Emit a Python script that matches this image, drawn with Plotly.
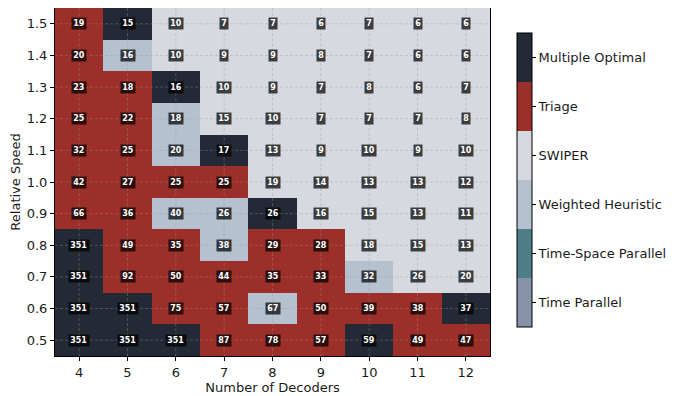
import plotly.graph_objects as go

decoders = [4, 5, 6, 7, 8, 9, 10, 11, 12]
speeds = [0.5, 0.6, 0.7, 0.8, 0.9, 1.0, 1.1, 1.2, 1.3, 1.4, 1.5]
strategy_names = ["Time Parallel", "Time-Space Parallel", "Weighted Heuristic",
                  "SWIPER", "Triage", "Multiple Optimal"]
strategy_colors = ["#8692a9", "#4e7d87", "#b6c1d0", "#d6dae0", "#9c2f29", "#232a35"]

# codes: 0=TP, 1=TSP, 2=WH, 3=SWIPER, 4=Triage, 5=Multiple Optimal (rows from speed 0.5 upward)
best_strategy = [
    [5, 5, 5, 4, 4, 4, 5, 4, 4],  # 0.5
    [5, 5, 4, 4, 2, 4, 4, 4, 5],  # 0.6
    [5, 4, 4, 4, 4, 4, 2, 3, 3],  # 0.7
    [5, 4, 4, 2, 4, 4, 3, 3, 3],  # 0.8
    [4, 4, 2, 2, 5, 3, 3, 3, 3],  # 0.9
    [4, 4, 4, 4, 3, 3, 3, 3, 3],  # 1.0
    [4, 4, 2, 5, 3, 3, 3, 3, 3],  # 1.1
    [4, 4, 2, 3, 3, 3, 3, 3, 3],  # 1.2
    [4, 4, 5, 3, 3, 3, 3, 3, 3],  # 1.3
    [4, 2, 3, 3, 3, 3, 3, 3, 3],  # 1.4
    [4, 5, 3, 3, 3, 3, 3, 3, 3],  # 1.5
]
cell_values = [
    [351, 351, 351, 87, 78, 57, 59, 49, 47],  # 0.5
    [351, 351, 75, 57, 67, 50, 39, 38, 37],   # 0.6
    [351, 92, 50, 44, 35, 33, 32, 26, 20],    # 0.7
    [351, 49, 35, 38, 29, 28, 18, 15, 13],    # 0.8
    [66, 36, 40, 26, 26, 16, 15, 13, 11],     # 0.9
    [42, 27, 25, 25, 19, 14, 13, 13, 12],     # 1.0
    [32, 25, 20, 17, 13, 9, 10, 9, 10],       # 1.1
    [25, 22, 18, 15, 10, 7, 7, 7, 8],         # 1.2
    [23, 18, 16, 10, 9, 7, 8, 6, 7],          # 1.3
    [20, 16, 10, 9, 9, 8, 7, 6, 6],           # 1.4
    [19, 15, 10, 7, 7, 6, 7, 6, 6],           # 1.5
]

n = len(strategy_names)
colorscale = []
for i, c in enumerate(strategy_colors):
    colorscale.append([i / n, c])
    colorscale.append([(i + 1) / n, c])

fig = go.Figure()
fig.add_trace(go.Heatmap(
    x=decoders, y=speeds, z=best_strategy,
    zmin=-0.5, zmax=n - 0.5,
    colorscale=colorscale,
    hoverinfo="skip",
    colorbar=dict(
        tickvals=list(range(n)), ticktext=strategy_names,
        thickness=15, len=0.845, y=0.506, yanchor="middle",
        x=1.062, xanchor="left", xpad=0, ypad=0,
        outlinecolor="black", outlinewidth=1,
        ticks="outside", ticklen=4, tickcolor="black",
        tickfont=dict(size=13, color="#1a1a1a"),
    ),
))

grid_line = dict(color="rgba(150,150,150,0.45)", width=0.8, dash="3px,2px")
for xv in decoders:
    fig.add_vline(x=xv, line=grid_line, layer="above")
for yv in speeds:
    fig.add_hline(y=yv, line=grid_line, layer="above")

for r, yv in enumerate(speeds):
    for c, xv in enumerate(decoders):
        fig.add_annotation(
            x=xv, y=yv, text=f"<b>{cell_values[r][c]}</b>", showarrow=False,
            font=dict(size=8, color="white", family="DejaVu Sans"),
            bgcolor="rgba(0,0,0,0.72)", borderpad=1.2,
        )

fig.update_xaxes(
    title=dict(text="Number of Decoders", font=dict(size=13), standoff=2),
    tickvals=decoders, ticks="outside", ticklen=4, tickcolor="black",
    showline=True, linecolor="black", linewidth=1, mirror=True,
    showgrid=False, zeroline=False, range=[3.5, 12.5],
    tickfont=dict(size=13),
)
fig.update_yaxes(
    title=dict(text="Relative Speed", font=dict(size=13), standoff=4),
    tickvals=speeds, tickformat=".1f", ticks="outside", ticklen=4, tickcolor="black",
    showline=True, linecolor="black", linewidth=1, mirror=True,
    showgrid=False, zeroline=False, range=[0.45, 1.55],
    tickfont=dict(size=13),
)
fig.update_layout(
    width=686, height=388,
    margin=dict(l=47, r=204, t=0, b=40),
    paper_bgcolor="white", plot_bgcolor="white",
    font=dict(family="DejaVu Sans", color="#1a1a1a"),
)
fig.write_html("out.html")
